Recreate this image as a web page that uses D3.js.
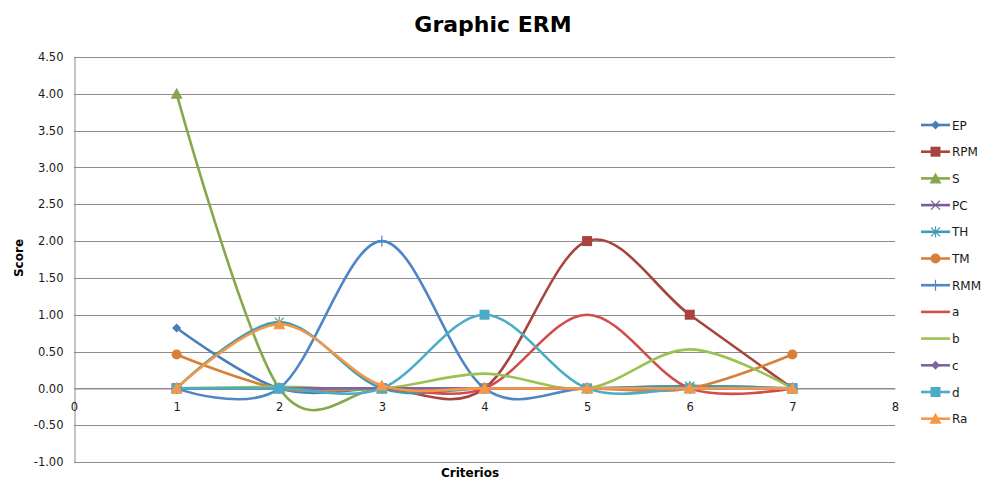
<!DOCTYPE html>
<html>
<head>
<meta charset="utf-8">
<script src="https://cdn.jsdelivr.net/npm/d3@7"></script>
<style>
  html, body { margin: 0; padding: 0; background: #fff; }
  svg { display: block; font-family: "DejaVu Sans", Verdana, sans-serif; }
</style>
</head>
<body>
<svg id="chart" width="985" height="482"></svg>
<script>
// Criteria on the x axis
const criterios = [1, 2, 3, 4, 5, 6, 7];

// Scores per series, one value per criterion
const EP  = [0.82, 0, 0, 0, 0, 0.03, 0];
const RPM = [0, 0, 0, 0, 2.0, 1.0, 0];
const S   = [4.0, 0, 0, 0, 0, 0, 0];
const PC  = [0, 0, 0, 0, 0, 0, 0];
const TH  = [0, 0.9, 0, 0, 0, 0.03, 0];
const TM  = [0.46, 0, 0, 0, 0, 0, 0.46];
const RMM = [0, 0, 2.0, 0, 0, 0, 0];
const a   = [0, 0, 0, 0, 1.0, 0, 0];
const b   = [0, 0.02, 0, 0.2, 0, 0.53, 0];
const c   = [0, 0, 0, 0, 0, 0, 0];
const d   = [0, 0, 0, 1.0, 0, 0, 0];
const Ra  = [0, 0.87, 0.04, 0, 0, 0, 0];

const seriesNames = ["EP", "RPM", "S", "PC", "TH", "TM", "RMM", "a", "b", "c", "d", "Ra"];
const seriesValues = [EP, RPM, S, PC, TH, TM, RMM, a, b, c, d, Ra];
const seriesColors = ["#4a7ebb", "#a84440", "#86a84b", "#7a5a9a", "#3f9db0", "#d98038",
                      "#4f86c6", "#d24c4b", "#9bc150", "#8064a2", "#4bacc6", "#f79646"];
const seriesMarkers = ["diamond", "square", "triangle", "x", "star", "circle",
                       "plus", "none", "none", "diamond", "square", "triangle"];

const yTicks = [-1, -0.5, 0, 0.5, 1, 1.5, 2, 2.5, 3, 3.5, 4, 4.5];
const xTicks = [0, 1, 2, 3, 4, 5, 6, 7, 8];

const svg = d3.select("#chart");

const x = d3.scaleLinear().domain([0, 8]).range([74, 895]);
const y = d3.scaleLinear().domain([-1, 4.5]).range([462, 57]);

// Plain hyphen for negative tick labels
const fmt2 = v => v.toFixed(2);

// Title
svg.append("text")
  .attr("x", 493).attr("y", 32)
  .attr("text-anchor", "middle")
  .attr("font-size", 22).attr("font-weight", "bold")
  .attr("fill", "#000")
  .text("Graphic ERM");

// Horizontal gridlines
svg.append("g")
  .selectAll("line")
  .data(yTicks)
  .join("line")
  .attr("x1", x(0)).attr("x2", x(8))
  .attr("y1", t => Math.round(y(t)) + 0.5).attr("y2", t => Math.round(y(t)) + 0.5)
  .attr("stroke", "#8c8c8c").attr("stroke-width", 1);

// Y axis
const yAxis = svg.append("g")
  .attr("transform", `translate(${Math.round(x(0)) + 0.5},0)`)
  .call(d3.axisLeft(y).tickValues(yTicks).tickFormat(fmt2).tickSize(0).tickPadding(11));
yAxis.select(".domain").attr("stroke", "#8c8c8c");
yAxis.selectAll("text").attr("font-size", 11.5).attr("fill", "#1a1a1a")
  .attr("font-family", "DejaVu Sans, Verdana, sans-serif");

// X axis crosses at zero, labels below it
const xAxis = svg.append("g")
  .attr("transform", `translate(0,${Math.round(y(0)) + 0.5})`)
  .call(d3.axisBottom(x).tickValues(xTicks).tickFormat(d3.format("d")).tickSize(0).tickPadding(14));
xAxis.select(".domain").attr("stroke", "#8c8c8c");
xAxis.selectAll("text").attr("font-size", 11.5).attr("fill", "#1a1a1a")
  .attr("font-family", "DejaVu Sans, Verdana, sans-serif");

// Axis titles
svg.append("text")
  .attr("transform", `translate(23,258) rotate(-90)`)
  .attr("text-anchor", "middle")
  .attr("font-size", 12).attr("font-weight", "bold")
  .text("Score");
svg.append("text")
  .attr("x", 470).attr("y", 477)
  .attr("text-anchor", "middle")
  .attr("font-size", 12).attr("font-weight", "bold")
  .text("Criterios");

// Marker drawing
function drawMarker(g, type, color, cx, cy) {
  const s = 4.5;
  if (type === "diamond") {
    g.append("path").attr("d", `M${cx},${cy - s}L${cx + s},${cy}L${cx},${cy + s}L${cx - s},${cy}Z`).attr("fill", color);
  } else if (type === "square") {
    g.append("rect").attr("x", cx - 5).attr("y", cy - 5).attr("width", 10).attr("height", 10).attr("fill", color);
  } else if (type === "triangle") {
    g.append("path").attr("d", `M${cx},${cy - 6}L${cx + 6},${cy + 5}L${cx - 6},${cy + 5}Z`).attr("fill", color);
  } else if (type === "circle") {
    g.append("circle").attr("cx", cx).attr("cy", cy).attr("r", 5).attr("fill", color);
  } else if (type === "x") {
    g.append("path").attr("d", `M${cx - s},${cy - s}L${cx + s},${cy + s}M${cx - s},${cy + s}L${cx + s},${cy - s}`)
      .attr("stroke", color).attr("stroke-width", 1.2).attr("fill", "none");
  } else if (type === "star") {
    g.append("path").attr("d", `M${cx - s},${cy - s}L${cx + s},${cy + s}M${cx - s},${cy + s}L${cx + s},${cy - s}M${cx},${cy - s - 1}L${cx},${cy + s + 1}`)
      .attr("stroke", color).attr("stroke-width", 1.2).attr("fill", "none");
  } else if (type === "plus") {
    g.append("path").attr("d", `M${cx - s},${cy}L${cx + s},${cy}M${cx},${cy - s - 1}L${cx},${cy + s + 1}`)
      .attr("stroke", color).attr("stroke-width", 1.2).attr("fill", "none");
  }
}

// Smoothed series lines with markers
const line = d3.line()
  .x((v, i) => x(criterios[i]))
  .y(v => y(v))
  .curve(d3.curveCardinal.tension(0));

const plot = svg.append("g");
seriesNames.forEach((name, k) => {
  const g = plot.append("g");
  g.append("path")
    .datum(seriesValues[k])
    .attr("d", line)
    .attr("fill", "none")
    .attr("stroke", seriesColors[k])
    .attr("stroke-width", 2.6)
    .attr("stroke-linejoin", "round");
  seriesValues[k].forEach((v, i) => drawMarker(g, seriesMarkers[k], seriesColors[k], x(criterios[i]), y(v)));
});

// Legend
const legend = svg.append("g");
seriesNames.forEach((name, k) => {
  const ly = 125 + k * 26.7;
  const g = legend.append("g");
  g.append("line").attr("x1", 921).attr("x2", 950).attr("y1", ly).attr("y2", ly)
    .attr("stroke", seriesColors[k]).attr("stroke-width", 2.6);
  drawMarker(g, seriesMarkers[k], seriesColors[k], 935.5, ly);
  g.append("text").attr("x", 952).attr("y", ly + 4.5)
    .attr("font-size", 12).attr("fill", "#1a1a1a")
    .text(name);
});
</script>
</body>
</html>
